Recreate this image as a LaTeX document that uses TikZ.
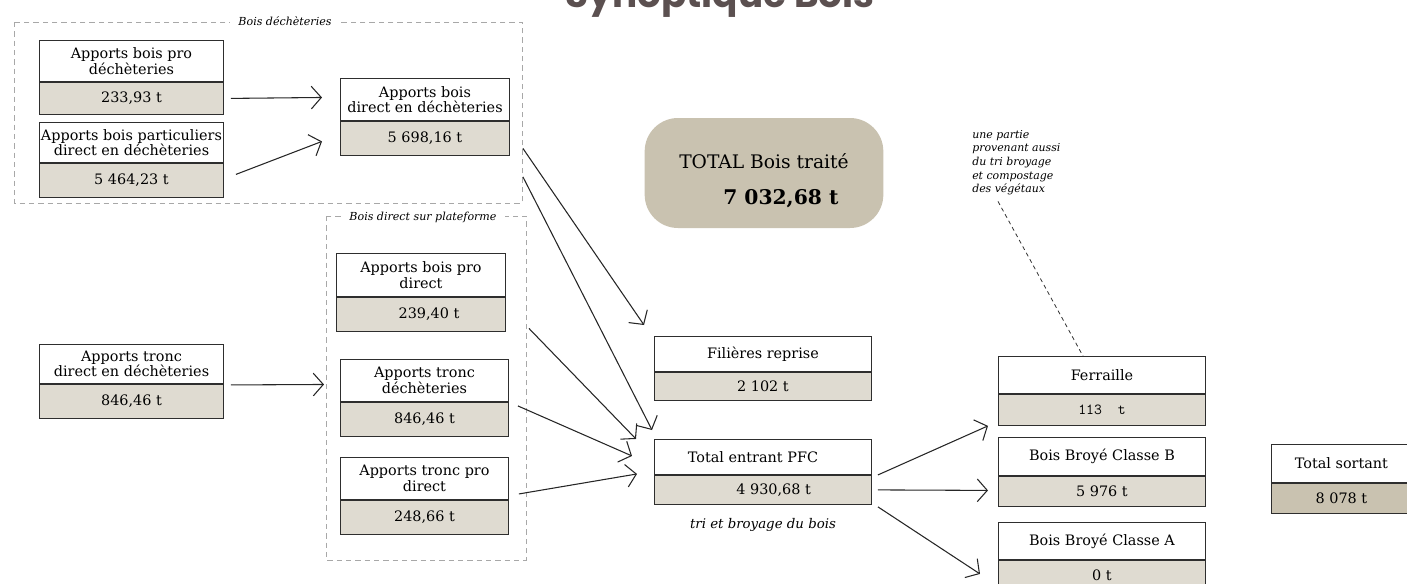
\documentclass[tikz,border=0pt]{standalone}
\usepackage{fontspec}
\setmainfont{DejaVu Serif}
\newfontfamily\titlefont{Poppins}
\usepackage{tikz}
\usetikzlibrary{positioning, arrows.meta}
\definecolor{boxline}{HTML}{2E2E2E}
\definecolor{valfill}{HTML}{DFDBD1}
\definecolor{totalfill}{HTML}{C9C2B0}
\definecolor{framegray}{HTML}{A8A8A8}
\definecolor{titlecol}{HTML}{5B5050}
\tikzstyle{frame}=[draw=framegray, dash pattern=on 4pt off 3pt, line width=0.6pt]
\tikzstyle{frameLabel}=[fill=white, inner xsep=6pt, inner ysep=1pt, font=\itshape\fontsize{8.3}{9}\selectfont]
\tikzstyle{flow}=[-{Straight Barb[length=7.5pt,width=17pt]}, draw=black!85, line width=0.8pt]
\tikzstyle{note}=[align=left, inner sep=0pt, font=\itshape\fontsize{8.2}{10.2}\selectfont]
\tikzstyle{totalBox}=[fill=totalfill, rounded corners=25pt, minimum width=179pt, minimum height=82.5pt]
\tikzset{
  head/.style={draw=boxline, fill=white, align=center, inner sep=0pt, line width=0.7pt,
    minimum width=#1*0.75pt, font=\fontsize{10.8}{11.5}\selectfont},
  val/.style={draw=boxline, fill=valfill, inner sep=0pt, line width=0.7pt,
    minimum width=#1*0.75pt, font=\fontsize{10.8}{12}\selectfont}
}

\begin{document}
\begin{tikzpicture}[x=0.75pt, y=-0.75pt]
  \useasboundingbox (0,0) rectangle (1407,583);

  \node[font=\titlefont\bfseries\fontsize{28}{30}\selectfont, text=titlecol, anchor=base]
    (synTitle) at (720,7) {Synoptique Bois};

  % bois dechetteries
  \draw[frame] (14,22) rectangle (522,203);
  \node[frameLabel] (dechLabel) at (285,21) {Bois déchèteries};

  \node[head=184, minimum height=30.75pt, anchor=north west] (proDech) at (39,40) {Apports bois pro\\déchèteries};
  \node[val=184, minimum height=24pt, below=0pt of proDech] (proDechVal) {233,93 t};
  \node[head=184, minimum height=30pt, anchor=north west] (partDech) at (39,122) {Apports bois particuliers\\direct en déchèteries};
  \node[val=184, minimum height=25.5pt, below=0pt of partDech] (partDechVal) {5 464,23 t};
  \node[head=169, minimum height=31.5pt, anchor=north west] (dirDech) at (340,78) {Apports bois\\direct en déchèteries};
  \node[val=169, minimum height=25.5pt, below=0pt of dirDech] (dirDechVal) {5 698,16 t};

  % bois direct plateforme
  \draw[frame] (326,216) rectangle (526,560);
  \node[frameLabel] (platLabel) at (423,217) {Bois direct sur plateforme};

  \node[head=169, minimum height=32.25pt, anchor=north west] (proDirect) at (336,253) {Apports bois pro\\direct};
  \node[val=169, minimum height=25.5pt, below=0pt of proDirect] (proDirectVal) {\hspace*{12pt}239,40 t};
  \node[head=168, minimum height=31.5pt, anchor=north west] (troncDech) at (340,359) {Apports tronc\\déchèteries};
  \node[val=168, minimum height=25.5pt, below=0pt of troncDech] (troncDechVal) {846,46 t};
  \node[head=168, minimum height=31.5pt, anchor=north west] (troncPro) at (340,457) {Apports tronc pro\\direct};
  \node[val=168, minimum height=25.5pt, below=0pt of troncPro] (troncProVal) {248,66 t};

  \node[head=184, minimum height=29.25pt, anchor=north west] (troncDirect) at (39,344) {Apports tronc\\direct en déchèteries};
  \node[val=184, minimum height=25.5pt, below=0pt of troncDirect] (troncDirectVal) {846,46 t};

  % centre
  \node[totalBox] (totalBois) at (764,173) {};
  \node[align=left, font=\fontsize{14}{27}\selectfont] (totalText) at ([shift={(0,8)}]totalBois.center)
    {TOTAL Bois traité\\\hspace*{33pt}{\bfseries\fontsize{15.2}{27}\selectfont 7 032,68 t}};

  \node[head=217, minimum height=26.25pt, anchor=north west] (filieres) at (654,336) {Filières reprise};
  \node[val=217, minimum height=21pt, below=0pt of filieres] (filieresVal) {2 102 t};
  \node[head=217, minimum height=26.25pt, anchor=north west] (pfc) at (654,439) {\hspace*{-15pt}Total entrant PFC};
  \node[val=217, minimum height=21.75pt, below=0pt of pfc] (pfcVal) {\hspace*{16pt}4 930,68 t};
  \node[font=\itshape\fontsize{10}{11}\selectfont, anchor=base] (pfcNote) at (763,528) {tri et broyage du bois};

  % sorties
  \node[head=207, minimum height=27.75pt, anchor=north west] (ferraille) at (998,356) {Ferraille};
  \node[val=207, minimum height=23.25pt, below=0pt of ferraille] (ferrailleVal) {\ttfamily\fontsize{11.5}{12}\selectfont 113\ \ t};
  \node[head=207, minimum height=28.5pt, anchor=north west] (classeB) at (998,437) {Bois Broyé Classe B};
  \node[val=207, minimum height=22.5pt, below=0pt of classeB] (classeBVal) {5 976 t};
  \node[head=207, minimum height=27.75pt, anchor=north west] (classeA) at (998,522) {Bois Broyé Classe A};
  \node[val=207, minimum height=22.5pt, below=0pt of classeA] (classeAVal) {0 t};

  \node[head=140, minimum height=28.5pt, anchor=north west] (sortant) at (1271,444) {Total sortant};
  \node[val=140, fill=totalfill, minimum height=22.5pt, below=0pt of sortant] (sortantVal) {8 078 t};

  \node[note, anchor=north west] (noteVeg) at (972,130) {une partie\\provenant aussi\\du tri broyage\\et compostage\\des végétaux};
  \draw[dash pattern=on 3pt off 2.5pt, draw=black!80, line width=0.6pt]
    ([shift={(26,6)}]noteVeg.south west) -- ([shift={(-19,0)}]ferraille.north);

  % fleches
  \draw[flow] ([shift={(7,0)}]proDechVal.east) -- ([shift={(-18,-2)}]dirDech.west);
  \draw[flow] ([shift={(12,-6)}]partDechVal.east) -- ([shift={(-18,3)}]dirDechVal.west);
  \draw[flow] ([shift={(13,10)}]dirDechVal.east) -- ([shift={(-10,-11)}]filieres.north west);
  \draw[flow] ([shift={(13,21)}]dirDechVal.south east) -- ([shift={(-2,-9)}]pfc.north west);
  \draw[flow] ([shift={(23,14)}]proDirectVal.east) -- ([shift={(-18,-18)}]pfc.west);
  \draw[flow] ([shift={(9,4)}]troncDechVal.north east) -- ([shift={(-22,-1)}]pfc.west);
  \draw[flow] ([shift={(10,-6)}]troncPro.south east) -- ([shift={(-17,-1)}]pfcVal.north west);
  \draw[flow] ([shift={(7,1)}]troncDirectVal.north east) -- ([shift={(-16,4)}]troncDech.west);
  \draw[flow] ([shift={(6,0)}]pfcVal.north east) -- ([shift={(-10,0)}]ferrailleVal.south west);
  \draw[flow] ([shift={(6,0)}]pfcVal.east) -- ([shift={(-10,-1)}]classeBVal.west);
  \draw[flow] ([shift={(6,2)}]pfcVal.south east) -- ([shift={(-18,14)}]classeAVal.north west);
\end{tikzpicture}
\end{document}
